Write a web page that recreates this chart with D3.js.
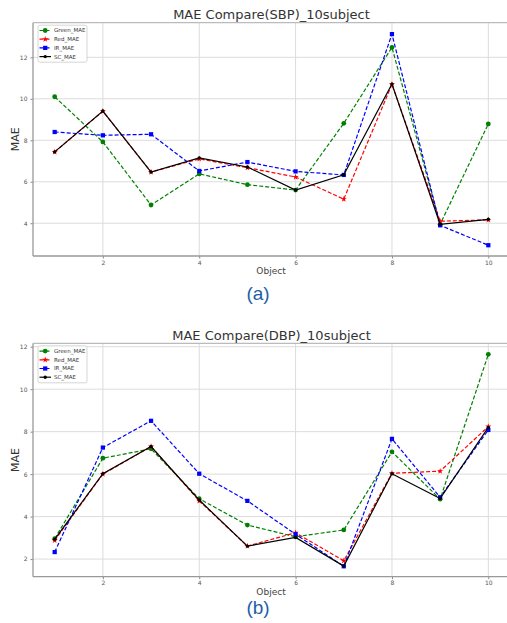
<!DOCTYPE html>
<html><head><meta charset="utf-8">
<script src="https://cdn.jsdelivr.net/npm/d3@7"></script>
<style>body{margin:0;background:#fff;}svg{display:block;}</style>
</head><body>
<svg id="c" width="507" height="623"></svg>
<script>
const objects = [1,2,3,4,5,6,7,8,9,10];
const xTicks = [2,4,6,8,10];
// SBP
const sbpGreen = [10.1, 7.92, 4.88, 6.38, 5.86, 5.6, 8.82, 12.48, 3.95, 8.79];
const sbpRed   = [7.44, 9.4, 6.47, 7.1, 6.68, 6.23, 5.16, 10.7, 4.1, 4.16];
const sbpIR    = [8.4, 8.24, 8.29, 6.52, 6.95, 6.5, 6.33, 13.12, 3.9, 2.94];
const sbpSC    = [7.44, 9.41, 6.47, 7.15, 6.71, 5.6, 6.34, 10.71, 3.95, 4.19];
const sbpYTicks = [4,6,8,10,12];
// DBP
const dbpGreen = [2.96, 6.75, 7.19, 4.84, 3.6, 3.05, 3.37, 7.05, 4.82, 11.64];
const dbpRed   = [2.88, 6.0, 7.3, 4.74, 2.61, 3.24, 1.92, 6.04, 6.14, 8.24];
const dbpIR    = [2.33, 7.25, 8.51, 6.02, 4.74, 3.17, 1.66, 7.66, 4.91, 8.08];
const dbpSC    = [2.93, 6.02, 7.3, 4.78, 2.61, 3.02, 1.67, 6.02, 4.85, 8.2];
const dbpYTicks = [2,4,6,8,10,12];
const seriesNames = ["Green_MAE","Red_MAE","IR_MAE","SC_MAE"];

const svg = d3.select("#c");
const styles = [
  {color:"#008000", dash:"4,2", marker:"circle"},
  {color:"#ff0000", dash:"4,2", marker:"star"},
  {color:"#0000ff", dash:"4,2", marker:"square"},
  {color:"#000000", dash:null, marker:"dot"}
];

function drawChart(cfg){
  const g = svg.append("g");
  const x = d3.scaleLinear().domain([0.55,10.45]).range([33,510]);
  const y = d3.scaleLinear().domain(cfg.ydom).range([cfg.bottom, cfg.top]);
  // grid
  g.append("g").selectAll("line").data(xTicks).join("line")
    .attr("x1",d=>x(d)).attr("x2",d=>x(d)).attr("y1",cfg.top).attr("y2",cfg.bottom)
    .attr("stroke","#dcdcdc").attr("stroke-width",1);
  g.append("g").selectAll("line").data(cfg.yticks).join("line")
    .attr("x1",33).attr("x2",510).attr("y1",d=>y(d)).attr("y2",d=>y(d))
    .attr("stroke","#dcdcdc").attr("stroke-width",1);
  // axes
  const xa = g.append("g").attr("transform",`translate(0,${cfg.bottom})`)
    .call(d3.axisBottom(x).tickValues(xTicks).tickSize(2.5).tickPadding(2));
  const ya = g.append("g").attr("transform",`translate(33,0)`)
    .call(d3.axisLeft(y).tickValues(cfg.yticks).tickSize(2.5).tickPadding(3));
  [xa,ya].forEach(a=>{
    a.select(".domain").remove();
    a.selectAll("line").attr("stroke","#888");
    a.selectAll("text").attr("font-family","DejaVu Sans").attr("font-size",6).style("fill","#555");
  });
  // spines
  g.append("line").attr("x1",33).attr("x2",33).attr("y1",cfg.top).attr("y2",cfg.bottom).attr("stroke","#999").attr("stroke-width",1.3);
  g.append("line").attr("x1",33).attr("x2",510).attr("y1",cfg.bottom).attr("y2",cfg.bottom).attr("stroke","#999").attr("stroke-width",1.3);
  g.append("line").attr("x1",33).attr("x2",510).attr("y1",cfg.top).attr("y2",cfg.top).attr("stroke","#bbb").attr("stroke-width",1.3);
  // series
  cfg.series.forEach((vals,i)=>{
    const st = styles[i];
    const line = d3.line().x((d,j)=>x(objects[j])).y(d=>y(d));
    g.append("path").datum(vals).attr("d",line).attr("fill","none")
      .attr("stroke",st.color).attr("stroke-width",1.2)
      .attr("stroke-dasharray",st.dash);
    drawMarkers(g, vals.map((v,j)=>[x(objects[j]),y(v)]), st);
  });
  // title
  g.append("text").attr("x",271.5).attr("y",cfg.top-3.5).attr("text-anchor","middle")
    .attr("font-family","DejaVu Sans").attr("font-size",13).attr("fill","#333").text(cfg.title);
  g.append("text").attr("x",271).attr("y",cfg.bottom+18).attr("text-anchor","middle")
    .attr("font-family","DejaVu Sans").attr("font-size",9).attr("fill","#444").text("Object");
  g.append("text").attr("transform",`translate(19,${(cfg.top+cfg.bottom)/2}) rotate(-90)`)
    .attr("text-anchor","middle").attr("font-family","DejaVu Sans").attr("font-size",11).attr("fill","#333").text("MAE");
  g.append("text").attr("x",258).attr("y",cfg.capY).attr("text-anchor","middle")
    .attr("font-family","Liberation Sans").attr("font-size",19).attr("fill","#1d5fa6").text(cfg.caption);
  // legend
  const lg = g.append("g").attr("transform",`translate(38,${cfg.top+2.5})`);
  lg.append("rect").attr("width",49).attr("height",37).attr("rx",2)
    .attr("fill","#fff").attr("fill-opacity",0.85).attr("stroke","#ccc").attr("stroke-width",0.8);
  seriesNames.forEach((n,i)=>{
    const yy = 5.3 + i*8.7;
    lg.append("line").attr("x1",1.5).attr("x2",13).attr("y1",yy).attr("y2",yy)
      .attr("stroke",styles[i].color).attr("stroke-width",1.2).attr("stroke-dasharray",styles[i].dash);
    drawMarkers(lg, [[7.2,yy]], styles[i]);
    lg.append("text").attr("x",16).attr("y",yy+2).attr("font-family","DejaVu Sans")
      .attr("font-size",5.5).attr("fill","#333").text(n);
  });
}

function drawMarkers(g, pts, st){
  const sel = g.append("g").selectAll("path").data(pts).join("path")
    .attr("transform",d=>`translate(${d[0]},${d[1]})`).attr("fill",st.color);
  if(st.marker==="circle") sel.attr("d",d3.symbol(d3.symbolCircle,18)());
  else if(st.marker==="star") sel.attr("d",d3.symbol(d3.symbolStar,12)());
  else if(st.marker==="square") sel.attr("d",d3.symbol(d3.symbolSquare,18)());
  else sel.attr("d",d3.symbol(d3.symbolCircle,9)());
}

drawChart({title:"MAE Compare(SBP)_10subject", ydom:[2.42,13.67], top:22.7, bottom:256,
  yticks:sbpYTicks, series:[sbpGreen,sbpRed,sbpIR,sbpSC], caption:"(a)", capY:300});
drawChart({title:"MAE Compare(DBP)_10subject", ydom:[1.17,12.16], top:343.3, bottom:576.7,
  yticks:dbpYTicks, series:[dbpGreen,dbpRed,dbpIR,dbpSC], caption:"(b)", capY:614});
</script>
</body></html>
